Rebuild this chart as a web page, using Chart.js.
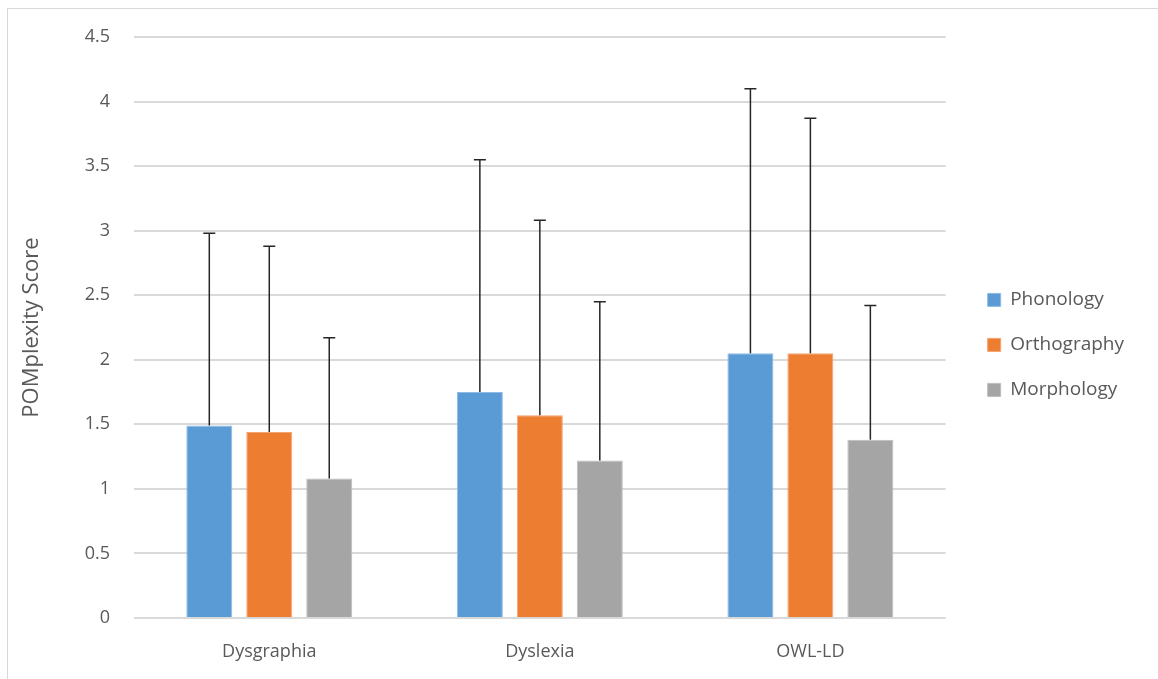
<!DOCTYPE html>
<html>
<head>
<meta charset="utf-8">
<script src="https://cdn.jsdelivr.net/npm/chart.js@4.4.0/dist/chart.umd.min.js"></script>
<style>
  html, body { margin: 0; padding: 0; background: #fff; overflow: hidden; }
  #frame { position: absolute; left: 7px; top: 8px; width: 1170px; height: 700px; border: 1px solid #d9d9d9; }
  #wrap { position: absolute; left: 0; top: 0; width: 1158px; height: 679px; }
</style>
</head>
<body>
<div id="frame"></div>
<div id="wrap"><canvas id="chart"></canvas></div>
<script>
const groups = ['Dysgraphia', 'Dyslexia', 'OWL-LD'];
const phonology = [1.49, 1.75, 2.05];
const orthography = [1.44, 1.57, 2.05];
const morphology = [1.08, 1.22, 1.38];
// upper error bar lengths
const phonologyErr = [1.49, 1.80, 2.05];
const orthographyErr = [1.44, 1.51, 1.82];
const morphologyErr = [1.09, 1.23, 1.04];

const errorBars = {
  id: 'errorBars',
  afterDatasetsDraw(chart) {
    const ctx = chart.ctx;
    const y = chart.scales.y;
    ctx.save();
    ctx.strokeStyle = '#262626';
    ctx.lineWidth = 1.5;
    chart.data.datasets.forEach((ds, i) => {
      const meta = chart.getDatasetMeta(i);
      meta.data.forEach((bar, j) => {
        const top = y.getPixelForValue(ds.data[j] + ds.errors[j]);
        ctx.beginPath();
        ctx.moveTo(bar.x, bar.y);
        ctx.lineTo(bar.x, top);
        ctx.moveTo(bar.x - 6, top);
        ctx.lineTo(bar.x + 6, top);
        ctx.stroke();
      });
    });
    ctx.restore();
  }
};

new Chart(document.getElementById('chart').getContext('2d'), {
  type: 'bar',
  data: {
    labels: groups,
    datasets: [
      { label: 'Phonology', data: phonology, errors: phonologyErr, backgroundColor: '#5b9bd5', borderColor: '#8dbbe6', borderWidth: 1 },
      { label: 'Orthography', data: orthography, errors: orthographyErr, backgroundColor: '#ed7d31', borderColor: '#f4a46e', borderWidth: 1 },
      { label: 'Morphology', data: morphology, errors: morphologyErr, backgroundColor: '#a5a5a5', borderColor: '#bdbdbd', borderWidth: 1 }
    ]
  },
  options: {
    responsive: true,
    maintainAspectRatio: false,
    animation: false,
    categoryPercentage: 0.665,
    barPercentage: 0.767,
    layout: { padding: { top: 37, right: 24, bottom: 0, left: 0 } },
    plugins: {
      legend: {
        position: 'right',
        align: 'start',
        // blank title used as a spacer to push the items down
        title: { display: true, text: ' ', font: { size: 12 }, padding: { top: 213, bottom: 0 } },
        labels: {
          font: { family: 'Open Sans', size: 19 },
          color: '#595959',
          boxWidth: 13,
          boxHeight: 13,
          padding: 26
        }
      },
      tooltip: { enabled: false }
    },
    scales: {
      x: {
        grid: { display: false },
        border: { display: false },
        ticks: { font: { family: 'Open Sans', size: 18 }, color: '#595959', padding: 15 },
        afterFit(scale) { scale.height = 61; }
      },
      y: {
        min: 0,
        max: 4.5,
        ticks: {
          stepSize: 0.5,
          font: { family: 'Open Sans', size: 18 },
          color: '#595959',
          padding: 24,
          callback: (v) => String(v)
        },
        grid: { color: '#d9d9d9', lineWidth: 2, drawTicks: false },
        border: { display: false },
        title: {
          display: true,
          text: 'POMplexity Score',
          font: { family: 'Open Sans', size: 22 },
          color: '#595959',
          padding: { top: 19, bottom: 0 }
        },
        afterFit(scale) { scale.width = 134; }
      },
      // empty spacer between plot and legend
      gap: {
        type: 'linear',
        position: 'right',
        display: true,
        grid: { display: false },
        border: { display: false },
        ticks: { display: false },
        afterFit(scale) { scale.width = 16; }
      }
    }
  },
  plugins: [errorBars]
});
</script>
</body>
</html>
